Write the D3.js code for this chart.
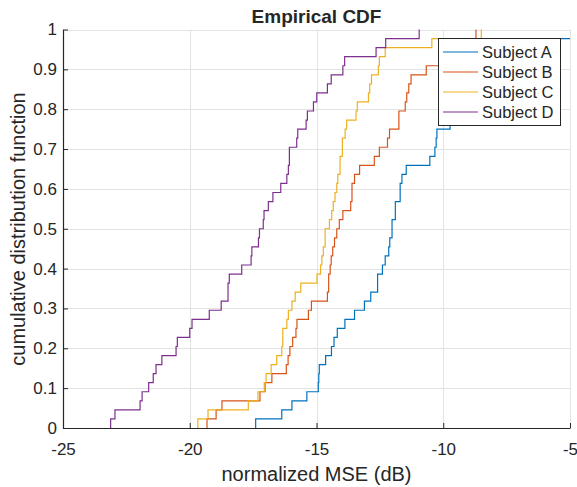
<!DOCTYPE html>
<html><head><meta charset="utf-8">
<script src="https://cdn.jsdelivr.net/npm/d3@7"></script>
<style>
body{margin:0;background:#fff}
svg{display:block}
text{font-family:"Liberation Sans",Arial,Helvetica,sans-serif;fill:#262626}
</style>
</head><body>
<svg id="chart" width="577" height="487"></svg>
<script>
// ---- data (normalized MSE in dB, one sample per step of the ECDF) ----
const seriesNames = ["Subject A", "Subject B", "Subject C", "Subject D"];
const subjectA = [-17.40,-16.37,-15.97,-15.38,-14.93,-14.91,-14.89,-14.64,-14.41,-14.31,
  -14.18,-13.88,-13.50,-13.11,-12.86,-12.59,-12.59,-12.40,-12.29,-12.15,
  -12.11,-12.02,-12.02,-11.89,-11.89,-11.70,-11.70,-11.63,-11.46,-10.53,
  -10.33,-10.28,-10.25,-9.73,-9.53,-9.25,-9.02,-8.74,-8.43,-8.07,
  -7.68,-7.24,-6.77,-4.60];
const subjectB = [-19.32,-18.96,-18.73,-17.23,-17.03,-16.76,-16.19,-16.12,-16.05,-15.94,
  -15.81,-15.77,-15.32,-15.20,-14.57,-14.52,-14.52,-14.46,-14.42,-14.36,
  -14.29,-14.20,-14.10,-13.96,-13.65,-13.60,-13.60,-13.50,-13.30,-12.72,
  -12.52,-12.20,-12.12,-11.75,-11.75,-11.50,-11.44,-11.36,-11.27,-10.67,
  -9.93,-9.53,-9.14,-8.71];
const subjectC = [-19.68,-19.28,-17.69,-17.31,-17.06,-16.99,-16.79,-16.57,-16.37,-16.33,
  -16.33,-16.17,-16.11,-15.97,-15.84,-15.62,-14.98,-14.84,-14.79,-14.73,
  -14.66,-14.66,-14.49,-14.40,-14.34,-14.27,-14.20,-14.16,-14.07,-14.07,
  -13.98,-13.98,-13.87,-13.81,-13.44,-13.39,-12.95,-12.90,-12.83,-12.56,
  -12.52,-12.29,-10.45,-8.50];
const subjectD = [-23.12,-22.95,-21.96,-21.88,-21.62,-21.44,-21.33,-21.10,-20.54,-20.49,
  -20.00,-19.91,-19.23,-18.76,-18.49,-18.49,-18.44,-17.95,-17.58,-17.55,
  -17.29,-17.25,-17.10,-17.07,-16.90,-16.72,-16.41,-16.17,-16.11,-16.07,
  -16.07,-15.78,-15.74,-15.41,-15.36,-15.12,-14.99,-14.57,-14.42,-13.96,
  -13.89,-12.65,-12.27,-10.95];
const xTickValues = [-25, -20, -15, -10, -5];
const xTickLabels = ["-25", "-20", "-15", "-10", "-5"];
const yTickValues = [0, 0.1, 0.2, 0.3, 0.4, 0.5, 0.6, 0.7, 0.8, 0.9, 1];
const yTickLabels = ["0", "0.1", "0.2", "0.3", "0.4", "0.5", "0.6", "0.7", "0.8", "0.9", "1"];
const seriesColors = ["#0072BD", "#D95319", "#EDB120", "#7E2F8E"];

const allSeries = [subjectA, subjectB, subjectC, subjectD];

// ---- layout ----
const L = 63, R = 570, T = 29.5, B = 428;
const svg = d3.select("#chart");
const x = d3.scaleLinear().domain([-25, -5]).range([L, R]);
const y = d3.scaleLinear().domain([0, 1]).range([B, T]);

svg.append("defs").append("clipPath").attr("id", "clip")
  .append("rect").attr("x", L).attr("y", T - 1).attr("width", R - L).attr("height", B - T + 1);

// grid
const grid = svg.append("g").attr("stroke", "#e3e3e3").attr("stroke-width", 1);
grid.selectAll("line.v").data(xTickValues).join("line")
  .attr("x1", d => Math.round(x(d)) + 0.5).attr("x2", d => Math.round(x(d)) + 0.5)
  .attr("y1", T).attr("y2", B);
grid.selectAll("line.h").data(yTickValues).join("line")
  .attr("y1", d => Math.round(y(d)) + 0.5).attr("y2", d => Math.round(y(d)) + 0.5)
  .attr("x1", L).attr("x2", R);

// ECDF stairs
const line = d3.line().x(d => x(d[0])).y(d => y(d[1])).curve(d3.curveStepAfter);
const plot = svg.append("g").attr("clip-path", "url(#clip)");
allSeries.forEach((vals, i) => {
  const s = vals.slice().sort(d3.ascending);
  const n = s.length;
  const pts = [[s[0], 0]].concat(s.map((v, j) => [v, (j + 1) / n]));
  plot.append("path").datum(pts)
    .attr("fill", "none").attr("stroke", seriesColors[i]).attr("stroke-width", 1.2)
    .attr("d", line);
});

// axes
const fmtX = d => xTickLabels[xTickValues.indexOf(d)];
const fmtY = d => yTickLabels[yTickValues.indexOf(d)];
const xAxis = svg.append("g").attr("transform", `translate(0,${B})`)
  .call(d3.axisBottom(x).tickValues(xTickValues).tickFormat(fmtX)
    .tickSizeInner(-5).tickSizeOuter(0).tickPadding(15));
const yAxis = svg.append("g").attr("transform", `translate(${L},0)`)
  .call(d3.axisLeft(y).tickValues(yTickValues).tickFormat(fmtY)
    .tickSizeInner(-5).tickSizeOuter(0).tickPadding(6));
[xAxis, yAxis].forEach(a => {
  a.select(".domain").attr("stroke", "#262626").attr("stroke-width", 1.2);
  a.selectAll(".tick line").attr("stroke", "#262626");
  a.selectAll(".tick text").attr("fill", "#262626").style("font-size", "17px")
    .style("font-family", "'Liberation Sans',Arial,sans-serif");
});

// labels
svg.append("text").attr("x", (L + R) / 2).attr("y", 23).attr("text-anchor", "middle")
  .style("font-size", "19px").style("font-weight", "bold").attr("fill", "#000").text("Empirical CDF");
svg.append("text").attr("x", (L + R) / 2).attr("y", 481).attr("text-anchor", "middle")
  .style("font-size", "20px").text("normalized MSE (dB)");
svg.append("text").attr("transform", "translate(25,229) rotate(-90)").attr("text-anchor", "middle")
  .style("font-size", "20px").text("cumulative distribution function");

// legend
const lg = svg.append("g");
lg.append("rect").attr("x", 438.5).attr("y", 38.5).attr("width", 122).attr("height", 87)
  .attr("fill", "#fff").attr("stroke", "#262626").attr("stroke-width", 1);
seriesNames.forEach((name, i) => {
  const cy = 52 + i * 20;
  lg.append("line").attr("x1", 443).attr("x2", 478).attr("y1", cy).attr("y2", cy)
    .attr("stroke", seriesColors[i]).attr("stroke-width", 1.2);
  lg.append("text").attr("x", 482).attr("y", cy).attr("dy", "0.35em")
    .style("font-size", "16.5px").attr("fill", "#000").text(name);
});
</script>
</body></html>
